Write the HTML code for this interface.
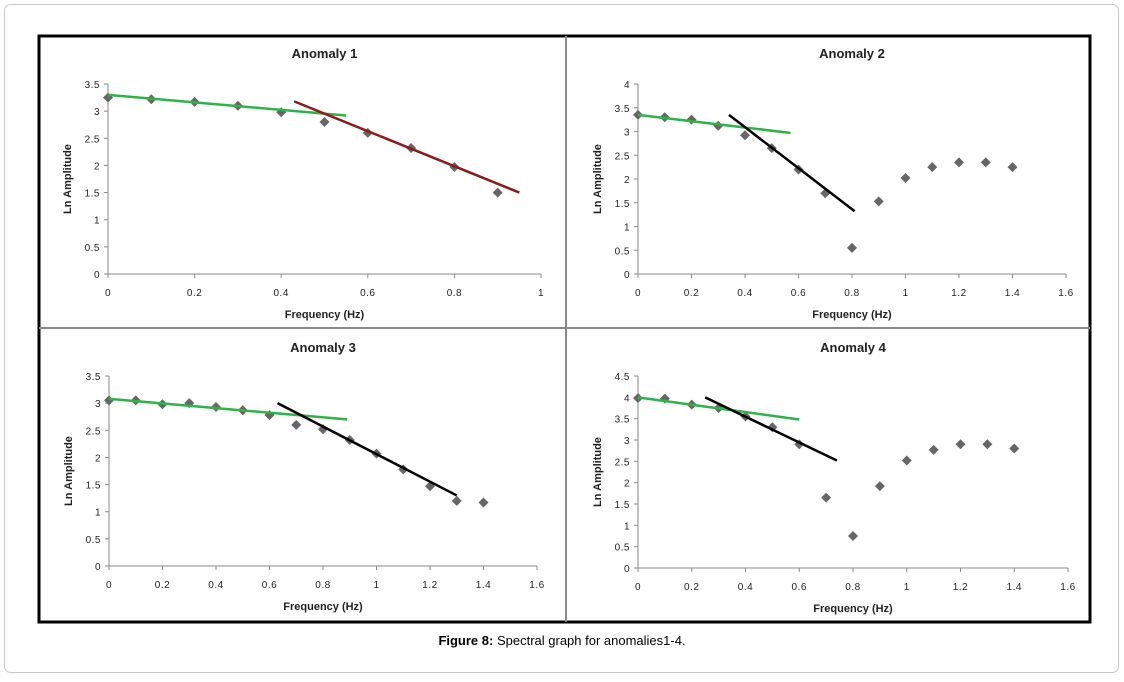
<!DOCTYPE html>
<html><head><meta charset="utf-8">
<style>
body{margin:0;background:#fff;font-family:"Liberation Sans",sans-serif;}
svg text{font-family:"Liberation Sans",sans-serif;}
</style></head>
<body>
<svg id="fig" width="1124" height="677" xmlns="http://www.w3.org/2000/svg">
<rect x="4.5" y="4.5" width="1114" height="668" rx="6" fill="#fff" stroke="#c8c8c8"/>
<rect x="39" y="36" width="1051" height="586" fill="none" stroke="#000" stroke-width="3"/>
<line x1="566" y1="36" x2="566" y2="622" stroke="#888" stroke-width="2"/>
<line x1="39" y1="328" x2="1090" y2="328" stroke="#888" stroke-width="2"/>
<text x="562" y="645" text-anchor="middle" font-size="13"><tspan font-weight="bold">Figure 8:</tspan> Spectral graph for anomalies1-4.</text>
<g id="charts"></g>
</svg>
<script>
const xs1=[0,0.1,0.2,0.3,0.4,0.5,0.6,0.7,0.8,0.9];
const a1=[3.25,3.22,3.17,3.1,2.98,2.8,2.6,2.32,1.97,1.5];
const xs=[0,0.1,0.2,0.3,0.4,0.5,0.6,0.7,0.8,0.9,1.0,1.1,1.2,1.3,1.4];
const a2=[3.35,3.3,3.25,3.12,2.92,2.65,2.2,1.7,0.55,1.53,2.02,2.25,2.35,2.35,2.25];
const a3=[3.05,3.05,2.98,3.0,2.93,2.87,2.78,2.6,2.52,2.32,2.07,1.78,1.47,1.2,1.17];
const a4=[3.98,3.97,3.83,3.75,3.55,3.3,2.9,1.65,0.75,1.92,2.52,2.77,2.9,2.9,2.8];
const fits1=[[0,3.3,0.55,2.92,'#2db34a'],[0.43,3.18,0.95,1.5,'#8b1a1a']];
const fits2=[[0,3.35,0.57,2.97,'#2db34a'],[0.34,3.35,0.81,1.32,'#000']];
const fits3=[[0,3.08,0.89,2.7,'#2db34a'],[0.63,3.0,1.3,1.3,'#000']];
const fits4=[[0,4.0,0.6,3.48,'#2db34a'],[0.25,4.0,0.74,2.52,'#000']];
const xt1=['0','0.2','0.4','0.6','0.8','1'];
const xt16=['0','0.2','0.4','0.6','0.8','1','1.2','1.4','1.6'];
const charts=[
 {t:'Anomaly 1',xs:xs1,ys:a1,fits:fits1,xmax:1,xt:xt1,ymax:3.5,L:108,R:541,T:84,B:274,ty:58},
 {t:'Anomaly 2',xs:xs,ys:a2,fits:fits2,xmax:1.6,xt:xt16,ymax:4,L:638,R:1066,T:84,B:274,ty:58},
 {t:'Anomaly 3',xs:xs,ys:a3,fits:fits3,xmax:1.6,xt:xt16,ymax:3.5,L:109,R:537,T:376,B:566,ty:352},
 {t:'Anomaly 4',xs:xs,ys:a4,fits:fits4,xmax:1.6,xt:xt16,ymax:4.5,L:638,R:1068,T:376,B:568,ty:352}
];
const NS='http://www.w3.org/2000/svg';
const root=document.getElementById('charts');
function mk(tag,attrs,parent){const e=document.createElementNS(NS,tag);for(const k in attrs)e.setAttribute(k,attrs[k]);parent.appendChild(e);return e;}
charts.forEach((c,i)=>{
 const g=mk('g',{},root);
 
 
 const sx=v=>c.L+(c.R-c.L)*v/c.xmax;
 const sy=v=>c.B-(c.B-c.T)*v/c.ymax;
 const tt=mk('text',{x:(c.L+c.R)/2,y:c.ty,'text-anchor':'middle','font-size':'13','font-weight':'bold',fill:'#222'},g);tt.textContent=c.t;
 
 
 const ax=mk('path',{d:`M${c.L},${c.T}V${c.B}H${c.R}`,stroke:'#888',fill:'none'},g);
 
 
 for(let v=0;v<=c.ymax+1e-9;v+=0.5){
  const y=sy(v);
  mk('line',{x1:c.L-4,x2:c.L,y1:y,y2:y,stroke:'#888'},g);
  const t=mk('text',{x:c.L-8,y:y+4,'text-anchor':'end','font-size':'10','letter-spacing':'0.5',fill:'#222'},g);
  t.textContent=String(Math.round(v*10)/10);
  
  
 }
 c.xt.forEach(s=>{
  const x=sx(parseFloat(s));
  mk('line',{x1:x,x2:x,y1:c.B,y2:c.B+4,stroke:'#888'},g);
  const t=mk('text',{x:x,y:c.B+22,'text-anchor':'middle','font-size':'10','letter-spacing':'0.5',fill:'#222'},g);
  t.textContent=s;
  
  
 });
 const xl=mk('text',{x:(c.L+c.R)/2,y:c.B+44,'text-anchor':'middle','font-size':'11','font-weight':'bold',fill:'#222'},g);xl.textContent='Frequency (Hz)';
 
 
 const ym=(c.T+c.B)/2, yx=c.L-37;
 const yl=mk('text',{x:yx,y:ym,'text-anchor':'middle','font-size':'11','font-weight':'bold',fill:'#222',transform:`rotate(-90 ${yx} ${ym})`},g);yl.textContent='Ln Amplitude';
 
 
 c.xs.forEach((xv,j)=>{
  const x=sx(xv),y=sy(c.ys[j]);
  const p=mk('path',{d:`M${x},${y-5}L${x+5},${y}L${x},${y+5}L${x-5},${y}Z`,fill:'#666'},g);
  
  
 });
 c.fits.forEach(f=>{
  const l=mk('line',{x1:sx(f[0]),y1:sy(f[1]),x2:sx(f[2]),y2:sy(f[3]),stroke:f[4],'stroke-width':'2.5'},g);
  
  
 });
});
</script>
</body></html>
